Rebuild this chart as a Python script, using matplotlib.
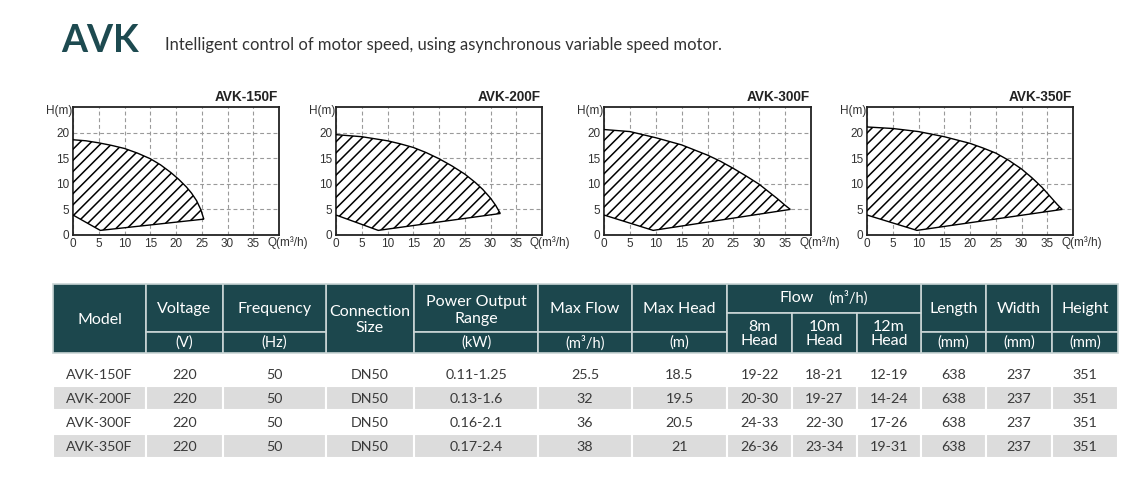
import matplotlib
matplotlib.use('Agg')
import matplotlib.pyplot as plt
from matplotlib.patches import Rectangle

W, H = 1142, 480

# --- performance curves (Q in m3/h, H in m) ---
models = ['AVK-150F', 'AVK-200F', 'AVK-300F', 'AVK-350F']

top_q_150 = [0, 2.5, 5, 7.5, 10, 12.5, 15, 17, 19, 20.5, 22, 23, 24, 24.8, 25.4]
top_h_150 = [18.6, 18.4, 18.0, 17.5, 16.9, 16.0, 14.9, 13.7, 12.2, 10.9, 9.4, 8.2, 6.7, 5.0, 3.1]
low_q_150 = [0, 5.3, 25.4]
low_h_150 = [3.9, 0.9, 3.1]

top_q_200 = [0, 5, 10, 12.5, 15, 17.5, 20, 22.5, 25, 27, 28.5, 30, 31, 31.9]
top_h_200 = [19.6, 19.2, 18.4, 17.8, 17.1, 16.1, 14.9, 13.5, 11.9, 10.3, 8.9, 7.2, 5.8, 4.2]
low_q_200 = [0, 8.2, 31.9]
low_h_200 = [3.9, 0.9, 4.2]

top_q_300 = [0, 5, 10, 15, 20, 22.5, 25, 27.5, 30, 32, 33.5, 35, 36]
top_h_300 = [20.6, 20.2, 19.0, 17.6, 15.6, 14.4, 13.0, 11.5, 9.9, 8.3, 7.1, 5.8, 5.0]
low_q_300 = [0, 9.5, 36]
low_h_300 = [3.9, 0.9, 5.0]

top_q_350 = [0, 5, 10, 15, 20, 22.5, 25, 27.5, 30, 32, 34, 35.5, 37, 37.9]
top_h_350 = [21.1, 20.8, 20.2, 19.2, 17.9, 17.0, 16.0, 14.6, 12.9, 11.2, 9.3, 7.6, 5.9, 5.0]
low_q_350 = [0, 9.7, 37.9]
low_h_350 = [3.9, 0.9, 5.0]

curves = [
    (top_q_150, top_h_150, low_q_150, low_h_150),
    (top_q_200, top_h_200, low_q_200, low_h_200),
    (top_q_300, top_h_300, low_q_300, low_h_300),
    (top_q_350, top_h_350, low_q_350, low_h_350),
]

x_ticks = [0, 5, 10, 15, 20, 25, 30, 35]
y_ticks = [0, 5, 10, 15, 20]

# --- table data ---
voltage = ['220', '220', '220', '220']
frequency = ['50', '50', '50', '50']
connection = ['DN50', 'DN50', 'DN50', 'DN50']
power = ['0.11-1.25', '0.13-1.6', '0.16-2.1', '0.17-2.4']
max_flow = ['25.5', '32', '36', '38']
max_head = ['18.5', '19.5', '20.5', '21']
flow_8m = ['19-22', '20-30', '24-33', '26-36']
flow_10m = ['18-21', '19-27', '22-30', '23-34']
flow_12m = ['12-19', '14-24', '17-26', '19-31']
length = ['638', '638', '638', '638']
width = ['237', '237', '237', '237']
height = ['351', '351', '351', '351']

teal = '#1c474d'
line_c = '#c9d5d5'
gray_row = '#dcdcdc'
txt_c = '#3a3a3a'
FONT = 'Lato'
ARIAL = 'Liberation Sans'

plt.rcParams['hatch.linewidth'] = 1.1

fig = plt.figure(figsize=(W / 100, H / 100), dpi=100)
bg = fig.add_axes([0, 0, 1, 1])
bg.set_xlim(0, W)
bg.set_ylim(H, 0)
bg.axis('off')

# heading
bg.text(61, 52, 'AVK', fontsize=27, fontweight='bold', color='#1d4a50',
        family=FONT, va='baseline', ha='left')
bg.text(165, 50, 'Intelligent control of motor speed, using asynchronous variable speed motor.',
        fontsize=11.9, color='#333333', family=FONT, va='baseline', ha='left')

# --- charts ---
boxes = [(73, 107, 279, 235), (336, 107, 542, 235),
         (604, 107, 811, 235), (867, 107, 1073, 235)]

for name, (x0, y0, x1, y1), (tq, th, lq, lh) in zip(models, boxes, curves):
    ax = fig.add_axes([x0 / W, 1 - y1 / H, (x1 - x0) / W, (y1 - y0) / H])
    ax.set_facecolor('none')
    ax.set_xlim(0, 40)
    ax.set_ylim(0, 25)
    ax.set_xticks(x_ticks)
    ax.set_yticks(y_ticks)
    ax.tick_params(length=0, labelsize=8.5, labelcolor='#333333')
    ax.tick_params(axis='x', pad=2)
    ax.tick_params(axis='y', pad=2.5)
    for lab in ax.get_xticklabels() + ax.get_yticklabels():
        lab.set_family(ARIAL)
    ax.grid(True, color='#9a9a9a', linestyle=(0, (3.5, 2.5)), linewidth=0.8)
    ax.set_axisbelow(True)
    for sp in ax.spines.values():
        sp.set_linewidth(1.3)
        sp.set_color('#222222')
    xs = list(tq) + list(lq[::-1][1:])
    ys = list(th) + list(lh[::-1][1:])
    ax.fill(xs, ys, facecolor='white', edgecolor='black', hatch='///',
            linewidth=1.0, zorder=3)

    bg.text(x1 - 1, 97, name, ha='right', va='center', fontsize=9.8,
            fontweight='bold', family=ARIAL, color='#222222')
    bg.text(x0 - 1, 111, 'H(m)', ha='right', va='center', fontsize=8.5,
            family=ARIAL, color='#333333')
    bg.text(x1 - 12, 243, 'Q(m³/h)', ha='left', va='center', fontsize=8.5,
            family=ARIAL, color='#333333')

# --- table ---
col_x = [53, 146, 223, 326, 414, 538, 632, 727, 792, 857, 921, 986, 1052, 1118]
y_top, y_mid, y_bot = 284, 332, 353
y_flow = 313


def cell(xa, xb, ya, yb, fc, ec, lw=1.2):
    bg.add_patch(Rectangle((xa, ya), xb - xa, yb - ya, facecolor=fc,
                           edgecolor=ec, linewidth=lw))


def htext(x, y, s, size=11.5):
    bg.text(x, y, s, ha='center', va='center', color='white',
            fontsize=size, family=FONT)


def cx(i):
    return (col_x[i] + col_x[i + 1]) / 2


# full-height cells
for i in (0, 3):
    cell(col_x[i], col_x[i + 1], y_top, y_bot, teal, line_c)
htext(cx(0), 320, 'Model')
htext(cx(3), 312, 'Connection')
htext(cx(3), 328, 'Size')

# title + unit cells
two_level = [(1, 'Voltage', '(V)'), (2, 'Frequency', '(Hz)'),
             (4, None, '(kW)'), (5, 'Max Flow', '(m³/h)'),
             (6, 'Max Head', '(m)'), (10, 'Length', '(mm)'),
             (11, 'Width', '(mm)'), (12, 'Height', '(mm)')]
for i, title, unit in two_level:
    cell(col_x[i], col_x[i + 1], y_top, y_mid, teal, line_c)
    cell(col_x[i], col_x[i + 1], y_mid, y_bot, teal, line_c)
    if title:
        htext(cx(i), 309, title)
    htext(cx(i), 343, unit, size=10.5)
htext(cx(4), 302, 'Power Output')
htext(cx(4), 319, 'Range')

# flow group
cell(col_x[7], col_x[10], y_top, y_flow, teal, line_c)
gx = (col_x[7] + col_x[10]) / 2
bg.text(gx - 10, 298, 'Flow', ha='right', va='center', color='white',
        fontsize=11.5, family=FONT)
bg.text(gx + 4, 298, '(m³/h)', ha='left', va='center', color='white',
        fontsize=10.5, family=FONT)
for i, lab in zip((7, 8, 9), ('8m', '10m', '12m')):
    cell(col_x[i], col_x[i + 1], y_flow, y_bot, teal, line_c)
    htext(cx(i), 327, lab)
    htext(cx(i), 341, 'Head')

# data rows
row_y = [362, 386, 410, 434, 458]
columns = [models, voltage, frequency, connection, power, max_flow, max_head,
           flow_8m, flow_10m, flow_12m, length, width, height]
for r in range(len(models)):
    ya, yb = row_y[r], row_y[r + 1]
    for c, vals in enumerate(columns):
        if r % 2 == 1:
            cell(col_x[c], col_x[c + 1], ya, yb, gray_row, 'white', lw=1.5)
        bg.text(cx(c), (ya + yb) / 2 + 1, vals[r], ha='center', va='center',
                color=txt_c, fontsize=10.3, family=FONT)

fig.savefig('out.png', dpi=100)
